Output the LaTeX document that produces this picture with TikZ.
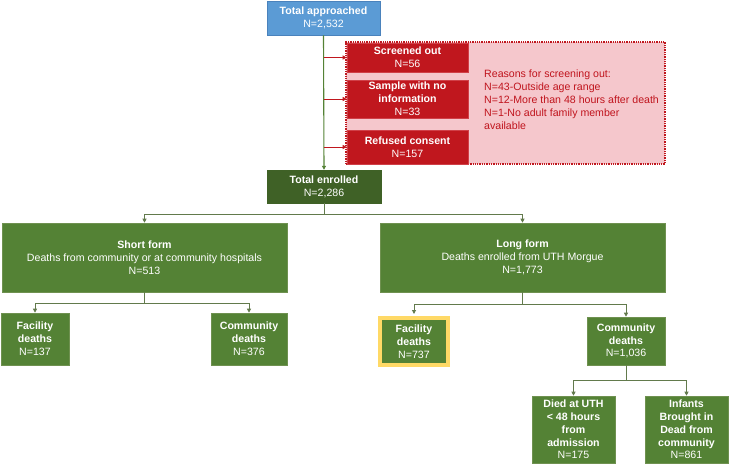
\documentclass[tikz,border=0pt]{standalone}
\usepackage{fontspec}
\setmainfont{Liberation Sans}
\usetikzlibrary{arrows.meta}
\definecolor{gfill}{HTML}{548235}
\definecolor{gdark}{HTML}{3F6126}
\definecolor{gline}{HTML}{627A4C}
\definecolor{gborder}{HTML}{6F9150}
\definecolor{rfill}{HTML}{C0171E}
\definecolor{rborder}{HTML}{D04048}
\definecolor{pinkbg}{HTML}{F5C7CC}
\definecolor{rtext}{HTML}{C0141D}
\definecolor{bfill}{HTML}{5B9BD5}
\definecolor{bborder}{HTML}{4A82BC}
\definecolor{ylw}{HTML}{FFD966}
\begin{document}
\begin{tikzpicture}[x=1pt,y=-1pt,
  every node/.style={font=\fontsize{10.6}{12.8}\selectfont, inner sep=1pt, align=center, text=white},
  box/.style={rectangle, draw=gborder, line width=0.6pt, fill=gfill},
  redbox/.style={rectangle, draw=rborder, line width=0.6pt, fill=rfill},
  conn/.style={draw=gline, line width=0.9pt, -{Triangle[length=4pt,width=4pt]}},
  rconn/.style={draw=rfill, line width=0.8pt, -{Triangle[length=4pt,width=4pt]}},
]
\useasboundingbox (0,0) rectangle (729,464);
% container
\node[rectangle, draw=rfill, fill=pinkbg, densely dotted, line width=1.3pt, minimum width=319pt, minimum height=122pt] (cont) at (505.5,103) {};
\node[anchor=west, align=left, text=rtext, font=\fontsize{10.6}{13}\selectfont] (reasons) at (483,99.5) {Reasons for screening out:\\N=43-Outside age range\\N=12-More than 48 hours after death\\N=1-No adult family member\\available};
% top
\node[rectangle, draw=bborder, line width=0.6pt, fill=bfill, minimum width=113pt, minimum height=34pt] (tapp) at (323.5,18) {\textbf{Total approached}\\N=2,532};
\node[redbox, minimum width=121pt, minimum height=29pt] (sout) at (407.5,57.5) {\textbf{Screened out}\\N=56};
\node[redbox, minimum width=121pt, minimum height=38pt] (snoinfo) at (407.5,99) {\textbf{Sample with no}\\\textbf{information}\\N=33};
\node[redbox, minimum width=121pt, minimum height=34pt] (refused) at (407.5,147) {\textbf{Refused consent}\\N=157};
\node[rectangle, draw=gdark, fill=gdark, minimum width=114pt, minimum height=33pt] (tenr) at (324,186.5) {\textbf{Total enrolled}\\N=2,286};
% forms
\node[box, minimum width=285pt, minimum height=69pt] (short) at (144.5,257.5) {\textbf{Short form}\\Deaths from community or at community hospitals\\N=513};
\node[box, minimum width=285pt, minimum height=69pt] (long) at (522.5,257.5) {\textbf{Long form}\\Deaths enrolled from UTH Morgue\\N=1,773};
% level 3
\node[box, minimum width=68pt, minimum height=52pt] (sfac) at (35,339) {\textbf{Facility}\\\textbf{deaths}\\N=137};
\node[box, minimum width=76pt, minimum height=52pt] (scom) at (249,339) {\textbf{Community}\\\textbf{deaths}\\N=376};
\node[rectangle, draw=ylw, fill=gfill, line width=4pt, minimum width=68pt, minimum height=47pt] (lfac) at (414,341.5) {\textbf{Facility}\\\textbf{deaths}\\N=737};
\node[box, minimum width=78pt, minimum height=48pt] (lcom) at (626,341) {\textbf{Community}\\\textbf{deaths}\\N=1,036};
% level 4
\node[box, minimum width=83pt, minimum height=67pt] (died) at (573.5,429.5) {\textbf{Died at UTH}\\\textbf{< 48 hours}\\\textbf{from}\\\textbf{admission}\\N=175};
\node[box, minimum width=83pt, minimum height=67pt] (inf) at (686.5,429.5) {\textbf{Infants}\\\textbf{Brought in}\\\textbf{Dead from}\\\textbf{community}\\N=861};
% connectors
\draw[conn, draw=gfill, line width=1.1pt] (tapp.south) -- (tenr.north);
\draw[rconn] (tapp.south |- sout.west) -- (sout.west);
\draw[rconn] (tapp.south |- snoinfo.west) -- (snoinfo.west);
\draw[rconn] (tapp.south |- refused.west) -- (refused.west);
\coordinate (j1) at (324,214);
\draw[draw=gline, line width=0.9pt] (tenr.south) -- (j1);
\draw[conn] (j1) -| (short.north);
\draw[conn] (j1) -| (long.north);
\coordinate (j2) at (144.5,303);
\draw[draw=gline, line width=0.9pt] (short.south) -- (j2);
\draw[conn] (j2) -| (sfac.north);
\draw[conn] (j2) -| (scom.north);
\coordinate (j3) at (522.5,304);
\draw[draw=gline, line width=0.9pt] (long.south) -- (j3);
\draw[conn, shorten >=2pt] (j3) -| (lfac.north);
\draw[conn] (j3) -| (lcom.north);
\coordinate (j4) at (626,380);
\draw[draw=gline, line width=0.9pt] (lcom.south) -- (j4);
\draw[conn] (j4) -| (died.north);
\draw[conn] (j4) -| (inf.north);
\end{tikzpicture}
\end{document}
